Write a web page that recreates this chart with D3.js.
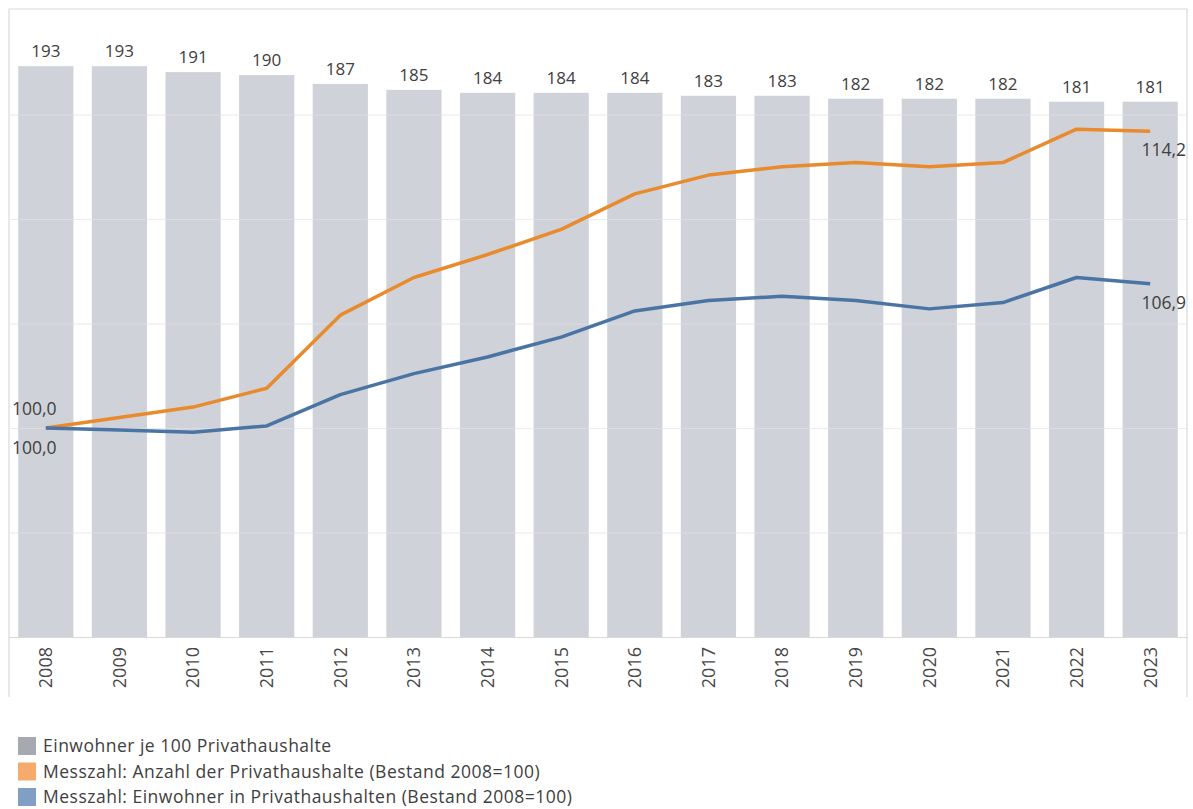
<!DOCTYPE html>
<html lang="de">
<head>
<meta charset="utf-8">
<script src="https://cdn.jsdelivr.net/npm/d3@7"></script>
<style>
  html, body { margin: 0; padding: 0; background: #ffffff; }
  svg { display: block; }
  text { font-family: "Open Sans", "Noto Sans", sans-serif; }
</style>
</head>
<body>
<svg id="chart" width="1193" height="809"></svg>
<script>
// Einwohner je 100 Privathaushalte, plus zwei Messzahlen (Bestand 2008 = 100)
const years = ["2008","2009","2010","2011","2012","2013","2014","2015",
               "2016","2017","2018","2019","2020","2021","2022","2023"];
const residentsPer100Households = [193,193,191,190,187,185,184,184,184,183,183,182,182,182,181,181];
const householdIndex = [100.0,100.5,101.0,101.9,105.4,107.2,108.3,109.5,111.2,112.1,112.5,112.7,112.5,112.7,114.3,114.2];
const residentIndex  = [100.0,99.9,99.8,100.1,101.6,102.6,103.4,104.35,105.6,106.1,106.3,106.1,105.7,106.0,107.2,106.9];
const indexTicks = [90,95,100,105,110,115];
const legendLabels = [
  "Einwohner je 100 Privathaushalte",
  "Messzahl: Anzahl der Privathaushalte (Bestand 2008=100)",
  "Messzahl: Einwohner in Privathaushalten (Bestand 2008=100)"
];

const colors = {
  bar: "#cfd2d8",
  orange: "#e98a2c",
  blue: "#4a74a3",
  legend: ["#a6aab0", "#f6aa6c", "#819fc5"],
  text: "#404040",
  axis: "#d9d9d9",
  grid: "#e6e6e6"
};

const svg = d3.select("#chart");
const plot = { left: 9, right: 1187, top: 10, bottom: 637 };

const x = d3.scaleBand()
  .domain(years)
  .range([plot.left, plot.right])
  .paddingInner(0.25)
  .paddingOuter(0.125);

const yBar = d3.scaleLinear().domain([0, 212]).range([plot.bottom, plot.top]);
const yIdx = d3.scaleLinear().domain([90, 120]).range([plot.bottom, plot.top]);

// chart frame (left, top, right)
svg.append("path")
  .attr("d", `M${plot.left},697V9H${plot.right}V697`)
  .attr("fill", "none")
  .attr("stroke", colors.axis)
  .attr("stroke-width", 1.2);

// gridlines behind the bars
const gridAxis = d3.axisLeft(yIdx)
  .tickValues(indexTicks.slice(1))
  .tickSize(-(plot.right - plot.left))
  .tickFormat("");
const gBack = svg.append("g")
  .attr("transform", `translate(${plot.left},0)`)
  .call(gridAxis);
gBack.select(".domain").remove();
gBack.selectAll("line").attr("stroke", colors.grid);

// bars
svg.append("g")
  .selectAll("rect")
  .data(years)
  .join("rect")
  .attr("x", d => x(d))
  .attr("width", x.bandwidth())
  .attr("y", (d, i) => yBar(residentsPer100Households[i]))
  .attr("height", (d, i) => yBar(0) - yBar(residentsPer100Households[i]))
  .attr("fill", colors.bar);

// faint gridlines over the bars
const gFront = svg.append("g")
  .attr("transform", `translate(${plot.left},0)`)
  .call(gridAxis);
gFront.select(".domain").remove();
gFront.selectAll("line").attr("stroke", "#ffffff").attr("stroke-opacity", 0.25);

// bar value labels
svg.append("g")
  .selectAll("text")
  .data(years)
  .join("text")
  .attr("x", d => x(d) + x.bandwidth() / 2)
  .attr("y", (d, i) => yBar(residentsPer100Households[i]) - 9)
  .attr("text-anchor", "middle")
  .attr("font-size", 17)
  .attr("fill", colors.text)
  .text((d, i) => residentsPer100Households[i]);

// x axis
const xAxis = svg.append("g")
  .attr("transform", `translate(0,${plot.bottom})`)
  .call(d3.axisBottom(x).tickSize(0).tickPadding(0));
xAxis.select(".domain").attr("stroke", colors.axis).attr("stroke-width", 1.2);
xAxis.selectAll("text")
  .attr("font-family", "'Liberation Sans', Arial, sans-serif")
  .attr("font-size", 18)
  .attr("fill", "#484848")
  .attr("transform", "rotate(-90)")
  .attr("text-anchor", "end")
  .attr("x", -10)
  .attr("y", 0)
  .attr("dy", "0.35em");

// index lines
const line = d3.line()
  .x((d, i) => x(years[i]) + x.bandwidth() / 2)
  .y(d => yIdx(d));

svg.append("path")
  .datum(householdIndex)
  .attr("d", line)
  .attr("fill", "none")
  .attr("stroke", colors.orange)
  .attr("stroke-width", 3.5)
  .attr("stroke-linejoin", "round");

svg.append("path")
  .datum(residentIndex)
  .attr("d", line)
  .attr("fill", "none")
  .attr("stroke", colors.blue)
  .attr("stroke-width", 3.5)
  .attr("stroke-linejoin", "round");

// start / end value labels
const fmt = v => d3.format(".1f")(v).replace(".", ",");
const last = years.length - 1;
const endLabels = [
  { v: householdIndex[0], x: 12, y: yIdx(householdIndex[0]) - 13, anchor: "start" },
  { v: residentIndex[0], x: 12, y: yIdx(residentIndex[0]) + 26, anchor: "start" },
  { v: householdIndex[last], x: 1186, y: yIdx(householdIndex[last]) + 25, anchor: "end" },
  { v: residentIndex[last], x: 1186, y: yIdx(residentIndex[last]) + 25, anchor: "end" }
];
svg.append("g")
  .selectAll("text")
  .data(endLabels)
  .join("text")
  .attr("x", d => d.x)
  .attr("y", d => d.y)
  .attr("text-anchor", d => d.anchor)
  .attr("font-size", 17.5)
  .attr("fill", colors.text)
  .text(d => fmt(d.v));

// legend
const legend = svg.append("g").attr("transform", "translate(18,737)");
const items = legend.selectAll("g")
  .data(legendLabels)
  .join("g")
  .attr("transform", (d, i) => `translate(0,${i * 25.5})`);
items.append("rect")
  .attr("width", 18)
  .attr("height", 18)
  .attr("fill", (d, i) => colors.legend[i]);
items.append("text")
  .attr("x", 25)
  .attr("y", 9)
  .attr("dy", "0.35em")
  .attr("font-size", 17.5)
  .attr("letter-spacing", 0.5)
  .attr("fill", colors.text)
  .text(d => d);
</script>
</body>
</html>
